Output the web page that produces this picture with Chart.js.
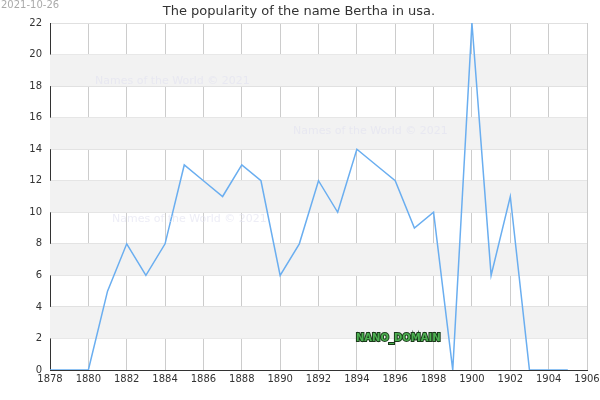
<!DOCTYPE html>
<html>
<head>
<meta charset="utf-8">
<script src="https://cdn.jsdelivr.net/npm/chart.js@4"></script>
<style>
  html, body { margin: 0; padding: 0; background: #fff; }
  #wrap { width: 600px; height: 400px; }
</style>
</head>
<body>
<div id="wrap"><canvas id="chart"></canvas></div>
<script>
const years = [1878, 1879, 1880, 1881, 1882, 1883, 1884, 1885, 1886, 1887, 1888, 1889, 1890, 1891,
  1892, 1893, 1894, 1895, 1896, 1897, 1898, 1899, 1900, 1901, 1902, 1903, 1904, 1905];
const births = [0, 0, 0, 5, 8, 6, 8, 13, 12, 11, 13, 12, 6, 8,
  12, 10, 14, 13, 12, 9, 10, 0, 22, 6, 11, 0, 0, 0];
const titleText = 'The popularity of the name Bertha in usa.';
const dateText = '2021-10-26';

// grey bands + faint watermarks
const decor = {
  id: 'decor',
  beforeDatasetsDraw(chart) {
    const { ctx, chartArea: a, scales: { y } } = chart;
    ctx.save();
    ctx.fillStyle = '#f2f2f2';
    for (let v = 2; v < 22; v += 4) {
      const top = y.getPixelForValue(v + 2), bot = y.getPixelForValue(v);
      ctx.fillRect(a.left, top, a.right - a.left, bot - top);
    }
    ctx.restore();
  },
  afterDraw(chart) {
    const { ctx } = chart;
    ctx.save();
    ctx.font = '11px "DejaVu Sans"';
    ctx.fillStyle = 'rgba(225,225,240,0.6)';
    ctx.fillText('Names of the World © 2021', 95, 84);
    ctx.fillText('Names of the World © 2021', 293, 134);
    ctx.fillText('Names of the World © 2021', 112, 222);
    ctx.font = 'bold 10px "DejaVu Sans"';
    ctx.lineWidth = 2;
    ctx.strokeStyle = '#1a3a1a';
    ctx.strokeText('NANO_DOMAIN', 356, 341);
    ctx.fillStyle = '#4caf50';
    ctx.fillText('NANO_DOMAIN', 356, 341);
    ctx.font = '10px "DejaVu Sans"';
    ctx.fillStyle = '#aaa';
    ctx.fillText(dateText, 1, 8);
    ctx.font = '13px "DejaVu Sans"';
    ctx.fillStyle = '#333';
    ctx.textAlign = 'center';
    ctx.fillText(titleText, 299, 15);
    ctx.restore();
  }
};

new Chart(document.getElementById('chart'), {
  type: 'line',
  data: {
    datasets: [{
      data: years.map((yr, i) => ({ x: yr, y: births[i] })),
      borderColor: '#6aaef0',
      borderWidth: 1.5,
      pointRadius: 0,
      tension: 0,
      fill: false
    }]
  },
  options: {
    responsive: true,
    maintainAspectRatio: false,
    animation: false,
    layout: { padding: { top: 23, right: 2 } },
    plugins: { legend: { display: false }, title: { display: false }, tooltip: { enabled: false } },
    scales: {
      x: {
        type: 'linear', min: 1878, max: 1906,
        ticks: { stepSize: 2, color: '#333', font: { size: 10, family: 'DejaVu Sans' }, maxRotation: 0,
          callback: v => String(v) },
        grid: { color: '#ccc', drawTicks: false },
        border: { color: '#333' },
        afterFit(s) { s.height = 30; s.paddingRight = 13; }
      },
      y: {
        min: 0, max: 22,
        ticks: { stepSize: 2, color: '#333', font: { size: 10, family: 'DejaVu Sans' }, padding: 8 },
        grid: { color: '#e0e0e0', drawTicks: false },
        border: { color: '#333' },
        afterFit(s) { s.width = 50; }
      }
    }
  },
  plugins: [decor]
});
</script>
</body>
</html>
